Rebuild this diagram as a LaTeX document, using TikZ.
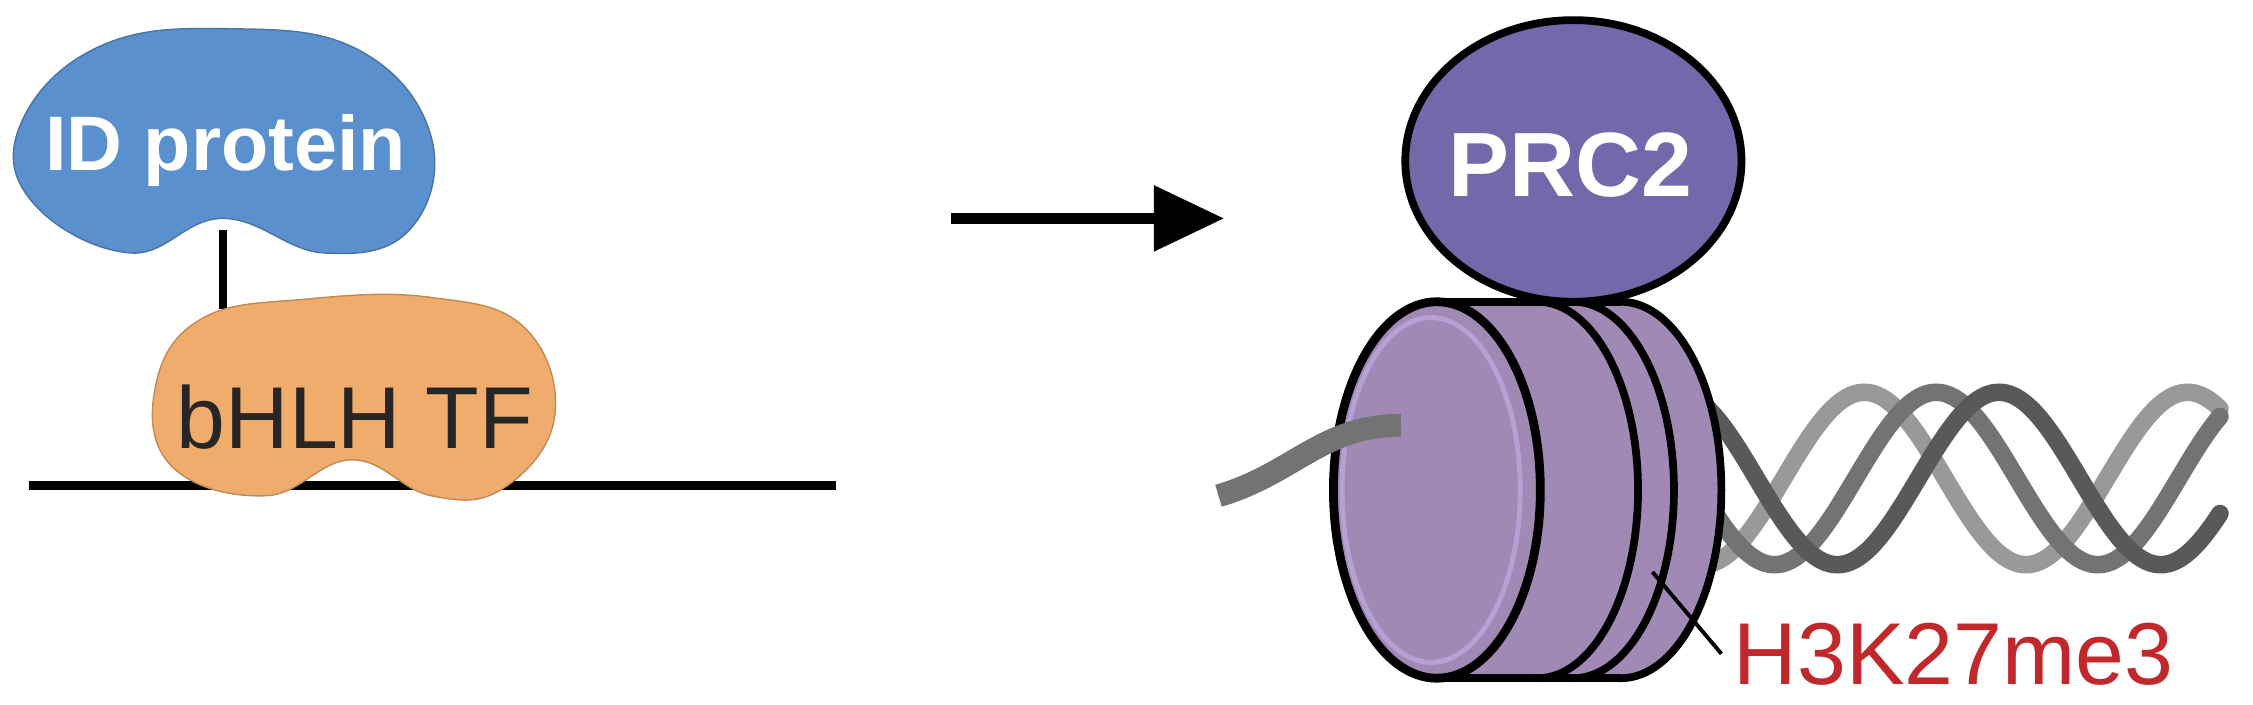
\documentclass[tikz,border=0pt]{standalone}
\usepackage{fontspec}
\setmainfont{Liberation Sans}
\usetikzlibrary{arrows.meta}
\definecolor{idblue}{HTML}{5B90CE}
\definecolor{borange}{HTML}{F0AC6C}
\definecolor{prc}{HTML}{7468AA}
\definecolor{nuc}{HTML}{A189B5}
\definecolor{nucedge}{HTML}{B6A0D6}
\definecolor{lab}{HTML}{C0282B}
\begin{document}
\begin{tikzpicture}[x=0.014369cm,y=-0.014369cm,
  blk/.style={line width=2.4pt,black},
  dna/.style={line width=5pt,line cap=round}]
\useasboundingbox (0,0) rectangle (1568,490.6);
% left
\draw[blk] (20,338) -- (582,338);
\draw[blk] (155,160) -- (155,215);
\path[fill=idblue,draw=idblue!80!black,line width=0.4pt] plot[smooth cycle,tension=0.7] coordinates
 {(155,152) (90,176) (22,140) (15,85) (70,32) (160,20) (250,35) (300,95) (285,160) (225,176)};
\node[text=white,font=\bfseries\fontsize{22}{26}\selectfont] (id) at (157,105) {ID protein};
\path[fill=borange,draw=borange!80!black,line width=0.4pt] plot[smooth cycle,tension=0.7] coordinates
 {(245,320) (185,345) (120,325) (108,270) (140,222) (215,208) (300,207) (365,228) (386,290) (350,340) (300,345)};
\node[text=black!85,font=\fontsize{25}{30}\selectfont] (bh) at (247,290) {bHLH TF};
% arrow
\coordinate (a1) at (662,152); \coordinate (a2) at (852,152);
\draw[line width=3.2pt,-{Triangle[length=20pt,width=18pt]}] (a1) -- (a2);
% DNA helix
\draw[dna,color=black!40] plot[domain=1185:1545,samples=120,smooth] (\x,{333+60*sin(1.6*(\x-1185)+90)});
\draw[dna,color=black!55] plot[domain=1185:1545,samples=120,smooth] (\x,{333+60*sin(1.6*(\x-1185)+10)});
\draw[dna,color=black!65] plot[domain=1185:1545,samples=120,smooth] (\x,{333+60*sin(1.6*(\x-1185)-60)});
% nucleosome
\draw[fill=nuc,line width=2.2pt] (1128,341) ellipse (70 and 131);
\fill[nuc] (1128,210) -- (1000,210) -- (1000,472) -- (1128,472) -- cycle;
\draw[line width=2.2pt] (1000,210) -- (1128,210);
\draw[line width=2.2pt] (1000,472) -- (1128,472);
\foreach \c in {1095,1070}{
  \draw[line width=2.2pt] (\c,472) arc[start angle=90,end angle=-90,x radius=70,y radius=131];
}
\draw[fill=nuc,line width=2.5pt] (1000,341) ellipse (72 and 131);
\draw[nucedge,line width=1.4pt] (996,341) ellipse (62 and 120);
% linker DNA
\coordinate (l1) at (848,345); \coordinate (l2) at (975,296);
\draw[dna,color=black!55,line cap=butt,line width=6.5pt] (l1) .. controls (900,330) and (920,296) .. (l2);
% PRC2
\draw[fill=prc,line width=2.2pt] (1095,112) ellipse (117 and 98);
\node[text=white,font=\bfseries\fontsize{26}{30}\selectfont] (prc) at (1093,115) {PRC2};
% label
\coordinate (p1) at (1150,398);
\node[text=lab,anchor=west,font=\fontsize{25}{30}\selectfont] (h3) at (1198,455) {H3K27me3};
\draw[line width=1.1pt] (p1) -- (h3.west);
\end{tikzpicture}
\end{document}
